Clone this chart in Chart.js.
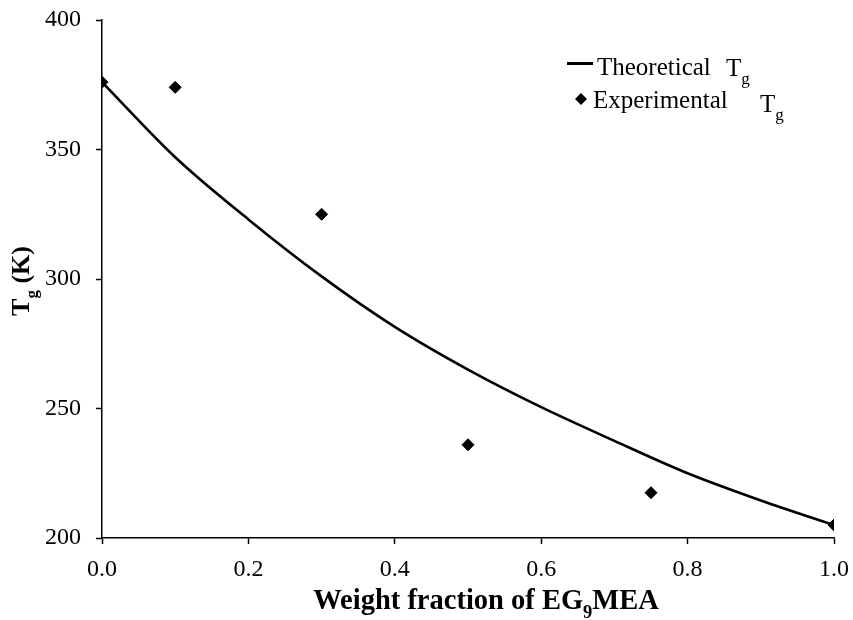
<!DOCTYPE html>
<html>
<head>
  <title>Tg vs weight fraction of EG9MEA</title>
  <script src="https://cdn.jsdelivr.net/npm/chart.js"></script>
  <style>
    body {
      margin: 0;
      background-color: white;
    }
  </style>
</head>
<body>
  <canvas id="tgChart" width="853" height="620"></canvas>

  <script>
    // Fox-type curve, read at steps of 0.1
    const theoryFraction = [0, 0.1, 0.2, 0.3, 0.4, 0.5, 0.6, 0.7, 0.8, 0.9, 1.0];
    const theoryTg = [376, 347, 323, 301, 281.5, 265, 250.5, 237.5, 225, 214.5, 205];

    // measured values
    const expFraction = [0, 0.1, 0.3, 0.5, 0.75, 1.0];
    const expTg = [376, 374, 325, 236, 217.5, 205];

    const xTicks = [0, 0.2, 0.4, 0.6, 0.8, 1.0];
    const yTicks = [200, 250, 300, 350, 400];

    const serif = "'Liberation Serif', 'Times New Roman', serif";

    // draws a run of text pieces, some of them as subscripts
    function drawRun(ctx, parts, x, y, weight, size, subSize, align) {
      const fonts = parts.map(p => weight + " " + (p[1] ? subSize : size) + "px " + serif);
      let total = 0;
      const widths = parts.map((p, i) => {
        ctx.font = fonts[i];
        const w = ctx.measureText(p[0]).width;
        total += w;
        return w;
      });
      let cur = align === "center" ? x - total / 2 : x;
      ctx.textAlign = "left";
      ctx.textBaseline = "alphabetic";
      parts.forEach((p, i) => {
        ctx.font = fonts[i];
        ctx.fillText(p[0], cur, p[1] ? y + size * 0.32 : y);
        cur += widths[i];
      });
    }

    const subscriptLabels = {
      id: "subscriptLabels",
      afterDraw(chart) {
        const ctx = chart.ctx;
        ctx.save();
        ctx.fillStyle = "#000";

        // x axis title
        drawRun(ctx, [["Weight fraction of EG", false], ["9", true], ["MEA", false]],
          486, 609, "bold", 28.5, 18.5, "center");

        // y axis title, rotated
        ctx.save();
        ctx.translate(29, 281);
        ctx.rotate(-Math.PI / 2);
        drawRun(ctx, [["T", false], ["g", true], [" (K)", false]], 0, 0, "bold", 26, 17, "center");
        ctx.restore();

        // legend
        ctx.strokeStyle = "#000";
        ctx.lineWidth = 3;
        ctx.beginPath();
        ctx.moveTo(567, 63.5);
        ctx.lineTo(593, 63.5);
        ctx.stroke();
        drawRun(ctx, [["Theoretical", false]], 597, 75, "normal", 25, 17, "left");
        drawRun(ctx, [["T", false], ["g", true]], 726, 76, "normal", 25, 17, "left");

        ctx.beginPath();
        ctx.moveTo(581, 93);
        ctx.lineTo(587, 99);
        ctx.lineTo(581, 105);
        ctx.lineTo(575, 99);
        ctx.closePath();
        ctx.fill();
        drawRun(ctx, [["Experimental", false]], 593, 108, "normal", 25, 17, "left");
        drawRun(ctx, [["T", false], ["g", true]], 760, 112, "normal", 25, 17, "left");

        ctx.restore();
      }
    };

    const tickFont = { family: serif, size: 24 };

    // keep label overhang from shrinking the plot area
    function fixBox(s, key, size) {
      s[key] = size;
      s.paddingTop = 0;
      s.paddingBottom = 0;
      s.paddingLeft = 0;
      s.paddingRight = 0;
    }

    const chart = new Chart(document.getElementById("tgChart"), {
      type: "scatter",
      data: {
        datasets: [
          {
            label: "Theoretical Tg",
            data: theoryFraction.map((w, i) => ({ x: w, y: theoryTg[i] })),
            showLine: true,
            borderColor: "#000",
            borderWidth: 2.6,
            pointRadius: 0,
            cubicInterpolationMode: "monotone",
          },
          {
            label: "Experimental Tg",
            data: expFraction.map((w, i) => ({ x: w, y: expTg[i] })),
            pointStyle: "rectRot",
            pointRadius: 6,
            backgroundColor: "#000",
            borderColor: "#000",
            borderWidth: 1,
          },
        ],
      },
      options: {
        responsive: false,
        animation: false,
        layout: { padding: { left: 0, right: 19, top: 20, bottom: 0 } },
        plugins: {
          legend: { display: false },
          tooltip: { enabled: false },
        },
        scales: {
          x: {
            type: "linear",
            min: 0,
            max: 1,
            afterBuildTicks: s => { s.ticks = xTicks.map(v => ({ value: v })); },
            afterFit: s => fixBox(s, "height", 82),
            border: { color: "#000", width: 1.5 },
            grid: { drawOnChartArea: false, tickLength: 6, tickColor: "#000", tickWidth: 1.5 },
            ticks: { color: "#000", font: tickFont, padding: 11, callback: v => v.toFixed(1) },
          },
          y: {
            min: 200,
            max: 400,
            afterBuildTicks: s => { s.ticks = yTicks.map(v => ({ value: v })); },
            afterFit: s => fixBox(s, "width", 102),
            border: { color: "#000", width: 1.5 },
            grid: { drawOnChartArea: false, tickLength: 6, tickColor: "#000", tickWidth: 1.5 },
            ticks: { color: "#000", font: tickFont, padding: 15 },
          },
        },
      },
      plugins: [subscriptLabels],
    });
  </script>
</body>
</html>
